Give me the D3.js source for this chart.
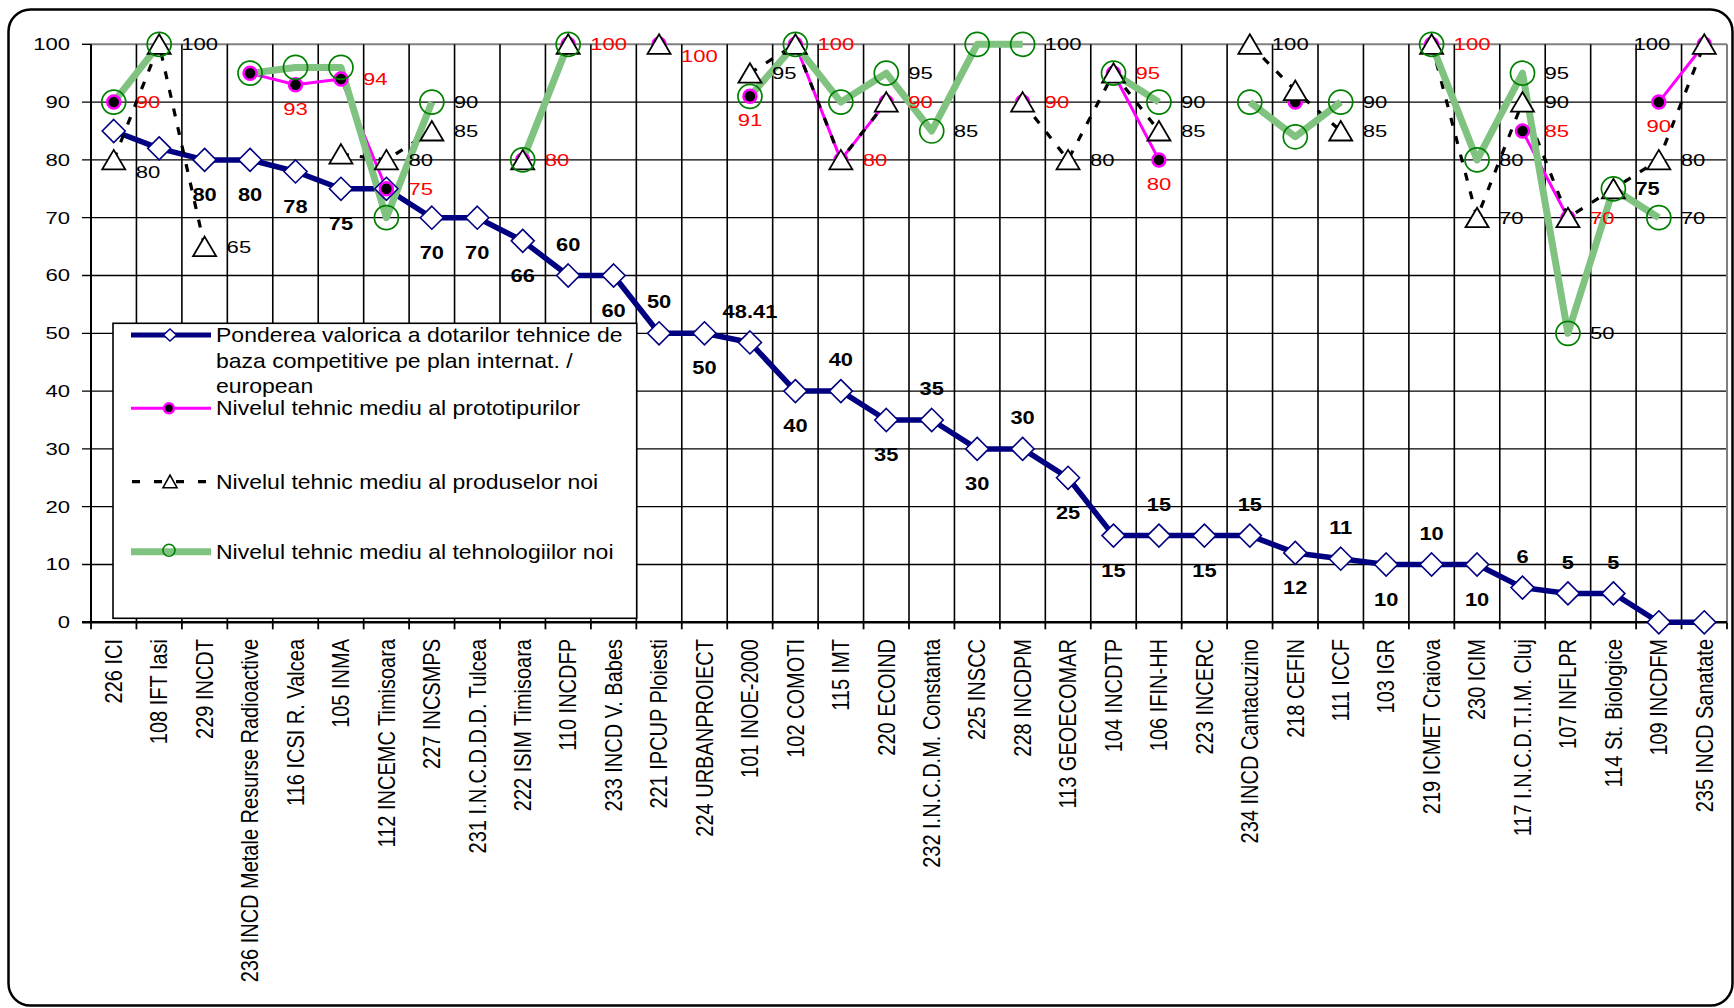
<!DOCTYPE html>
<html><head><meta charset="utf-8">
<script src="https://cdn.jsdelivr.net/npm/d3@7"></script>
<style>
html,body{margin:0;padding:0;background:#fff;}
svg{display:block;}
text{font-family:"Liberation Sans",Arial,Helvetica,sans-serif;}
</style>
</head><body>
<svg id="c" width="1734" height="1008"></svg>
<script>
// ---------------- DATA ----------------
const categories = [
  "226 ICI","108 IFT Iasi","229 INCDT","236 INCD Metale Resurse Radioactive","116 ICSI  R. Valcea",
  "105 INMA","112 INCEMC Timisoara","227 INCSMPS","231 I.N.C.D.D.D. Tulcea","222 ISIM Timisoara",
  "110 INCDFP","233 INCD V. Babes","221 IPCUP Ploiesti","224 URBANPROIECT","101 INOE-2000",
  "102 COMOTI","115 IMT","220 ECOIND","232 I.N.C.D.M. Constanta","225 INSCC",
  "228 INCDPM","113 GEOECOMAR","104 INCDTP","106 IFIN-HH","223 INCERC",
  "234 INCD Cantacuzino","218 CEFIN","111 ICCF","103 IGR","219  ICMET Craiova",
  "230 ICIM","117 I.N.C.D.T.I.M. Cluj","107 INFLPR","114 St.  Biologice","109 INCDFM",
  "235 INCD Sanatate"
];
// Ponderea valorica a dotarilor tehnice de baza competitive ...
const ponderea = [85,82,80,80,78,75,75,70,70,66,60,60,50,50,48.41,40,40,35,35,30,30,25,15,15,15,15,12,11,10,10,10,6,5,5,0,0];
// Nivelul tehnic mediu al prototipurilor
const prototipuri = [90,null,null,95,93,94,75,null,null,80,100,null,100,null,91,100,80,90,null,null,90,null,95,80,null,null,90,null,null,100,null,85,70,null,90,100];
// Nivelul tehnic mediu al produselor noi
const produse = [80,100,65,null,null,81,80,85,null,80,100,null,100,null,95,100,80,90,null,null,90,80,95,85,null,100,92,85,null,100,70,90,70,75,80,100];
// Nivelul tehnic mediu al tehnologiilor noi
const tehnologii = [90,100,null,95,96,96,70,90,null,80,100,null,null,null,91,100,90,95,85,100,100,null,95,90,null,90,84,90,null,100,80,95,50,75,70,null];

const yTicks = [0,10,20,30,40,50,60,70,80,90,100];
const legendLabels = [
  ["Ponderea valorica a dotarilor tehnice de","baza competitive pe plan internat. /","european"],
  ["Nivelul tehnic mediu al prototipurilor"],
  ["Nivelul tehnic mediu al produselor noi"],
  ["Nivelul tehnic mediu al tehnologiilor noi"]
];
// which points carry a data label, and on which side
const pondereaLabelSide = [null,null,"b","b","b","b",null,"b","b","b","a","b","a","b","a","b","a","b","a","b","a","b","b","a","b","a","b","a","b","a","b","a","a","a",null,null];
const prototipuriLabelSide = {0:"r",4:"b",5:"r",6:"r",9:"r",10:"r",12:"rb",14:"b",15:"r",16:"r",17:"r",20:"r",22:"r",23:"b",29:"r",31:"r",32:"r",34:"b"};
const produseLabelSide = {0:"rb",1:"r",2:"r",6:"r",7:"r",14:"r",21:"r",23:"r",25:"r",27:"r",30:"r",31:"r",33:"r",34:"r",35:"l"};
const tehnologiiLabelSide = {7:"r",17:"r",18:"r",20:"r",23:"r",27:"r",30:"r",31:"r",32:"r",34:"r"};
const produseBoldLabels = new Set([33]);

// ---------------- LAYOUT ----------------
const svg = d3.select("#c");
const L = 91, R = 1727, T = 44.3, B = 622.3;
const x = d3.scaleBand().domain(categories).range([L, R]).padding(0);
const cx = c => x(c) + x.bandwidth() / 2;
const y = d3.scaleLinear().domain([0, 100]).range([B, T]);

const NAVY = "#000080", MAG = "#ff00ff", GREEN_L = "#80c280", GREEN_M = "#008000", RED = "#ff0000";

// outer frame
svg.append("rect").attr("x", 8.5).attr("y", 9.5).attr("width", 1724).attr("height", 996)
  .attr("rx", 22).attr("ry", 22).attr("fill", "#fff").attr("stroke", "#000").attr("stroke-width", 2.5);

// text helper (horizontal stretch to mimic the reference rendering)
function txt(g, px, py, str, o) {
  const t = g.append("text")
    .attr("transform", `translate(${px},${py}) scale(${o.sx || 1},1)` + (o.rot ? ` rotate(${o.rot})` : ""))
    .attr("dy", "0.35em")
    .attr("text-anchor", o.anchor || "start")
    .attr("font-size", o.size)
    .attr("font-weight", o.bold ? "bold" : "normal")
    .attr("fill", o.fill || "#000")
    .text(str);
  return t;
}

// grid
const grid = svg.append("g");
yTicks.forEach(v => {
  if (v === 100) {
    grid.append("line").attr("x1", L - 9).attr("x2", L).attr("y1", y(v)).attr("y2", y(v)).attr("stroke", "#000").attr("stroke-width", 1.4);
    grid.append("line").attr("x1", L).attr("x2", R).attr("y1", y(v)).attr("y2", y(v)).attr("stroke", "#808080").attr("stroke-width", 2);
  } else if (v !== 0) {
    grid.append("line").attr("x1", L - 9).attr("x2", R).attr("y1", y(v)).attr("y2", y(v)).attr("stroke", "#000").attr("stroke-width", 1.3);
  }
});
const bounds = categories.map(c => x(c)).concat([x.range()[1]]);
bounds.forEach((bx, k) => {
  if (k > 0 && k < bounds.length - 1)
    grid.append("line").attr("x1", bx).attr("x2", bx).attr("y1", T).attr("y2", B).attr("stroke", "#000").attr("stroke-width", 1.6);
  grid.append("line").attr("x1", bx).attr("x2", bx).attr("y1", B).attr("y2", B + 7).attr("stroke", "#000").attr("stroke-width", 1.8);
});
// right gray border
grid.append("line").attr("x1", R).attr("x2", R).attr("y1", T).attr("y2", B).attr("stroke", "#808080").attr("stroke-width", 2);
// axes lines
grid.append("line").attr("x1", L).attr("x2", L).attr("y1", T).attr("y2", B).attr("stroke", "#000").attr("stroke-width", 2);
grid.append("line").attr("x1", L - 9).attr("x2", R).attr("y1", B).attr("y2", B).attr("stroke", "#000").attr("stroke-width", 2.5);

// y tick labels
const yl = svg.append("g");
yTicks.forEach(v => txt(yl, 70, y(v), String(v), {size: 17, sx: 1.3, anchor: "end"}));

// x labels
const xl = svg.append("g");
categories.forEach(c => txt(xl, cx(c), 639, c, {size: 20, sx: 1.18, anchor: "end", rot: -90}));

// ---------------- SERIES ----------------
const pts = arr => arr.map((v, i) => ({c: categories[i], v, i}));
const lineGen = d3.line().defined(d => d.v != null).x(d => cx(d.c)).y(d => y(d.v));
const lines = svg.append("g").attr("fill", "none").attr("stroke-linejoin", "round");
lines.append("path").attr("d", lineGen(pts(ponderea))).attr("stroke", NAVY).attr("stroke-width", 5.5);
lines.append("path").attr("d", lineGen(pts(prototipuri))).attr("stroke", MAG).attr("stroke-width", 3);
lines.append("path").attr("d", lineGen(pts(produse))).attr("stroke", "#000").attr("stroke-width", 3.2).attr("stroke-dasharray", "8,11");
lines.append("path").attr("d", lineGen(pts(tehnologii))).attr("stroke", GREEN_L).attr("stroke-width", 7);

const mk = svg.append("g");
const diamond = "M0,-11.5L11.5,0L0,11.5L-11.5,0Z";
const tri = "M0,-10L11.5,9.5L-11.5,9.5Z";
mk.selectAll(".d").data(pts(ponderea).filter(d => d.v != null)).join("path")
  .attr("d", diamond).attr("transform", d => `translate(${cx(d.c)},${y(d.v)})`)
  .attr("fill", "#fff").attr("stroke", NAVY).attr("stroke-width", 1.6);
mk.selectAll(".p").data(pts(prototipuri).filter(d => d.v != null)).join("circle")
  .attr("cx", d => cx(d.c)).attr("cy", d => y(d.v)).attr("r", 6.5)
  .attr("fill", "#000").attr("stroke", MAG).attr("stroke-width", 2.5);
mk.selectAll(".t").data(pts(produse).filter(d => d.v != null)).join("path")
  .attr("d", tri).attr("transform", d => `translate(${cx(d.c)},${y(d.v)})`)
  .attr("fill", "#fff").attr("stroke", "#000").attr("stroke-width", 1.8);
mk.selectAll(".g").data(pts(tehnologii).filter(d => d.v != null)).join("circle")
  .attr("cx", d => cx(d.c)).attr("cy", d => y(d.v)).attr("r", 12)
  .attr("fill", "none").attr("stroke", GREEN_M).attr("stroke-width", 1.7);

// ---------------- LABELS ----------------
const lb = svg.append("g");
function normalLabel(i, v, side, fill, bold) {
  const px = cx(categories[i]), py = y(v);
  const o = {size: 17, sx: 1.3, fill, bold};
  if (bold) { o.size = 17.5; o.sx = 1.25; }
  if (side === "r") txt(lb, px + 22, py, String(v), Object.assign(o, {anchor: "start"}));
  else if (side === "rb") txt(lb, px + 22, py + 12, String(v), Object.assign(o, {anchor: "start"}));
  else if (side === "b") txt(lb, px, py + 24, String(v), Object.assign(o, {anchor: "middle"}));
  else if (side === "l") txt(lb, px - 34, py, String(v), Object.assign(o, {anchor: "end"}));
}
ponderea.forEach((v, i) => {
  const s = pondereaLabelSide[i];
  if (!s || v == null) return;
  const px = cx(categories[i]), py = y(v);
  txt(lb, px, s === "b" ? py + 35 : py - 31, String(v), {size: 17.5, sx: 1.25, bold: true, anchor: "middle"});
});
Object.entries(prototipuriLabelSide).forEach(([i, s]) => normalLabel(+i, prototipuri[+i], s, RED, false));
Object.entries(produseLabelSide).forEach(([i, s]) => normalLabel(+i, produse[+i], s, "#000", produseBoldLabels.has(+i)));
Object.entries(tehnologiiLabelSide).forEach(([i, s]) => normalLabel(+i, tehnologii[+i], s, "#000", false));

// ---------------- LEGEND ----------------
const lg = svg.append("g");
lg.append("rect").attr("x", 113).attr("y", 323.3).attr("width", 523.7).attr("height", 295)
  .attr("fill", "#fff").attr("stroke", "#000").attr("stroke-width", 1.6);
const rowsY = [335, 408.3, 481.7, 551.7];
const sx0 = 131, sx1 = 211, mx = 170, tx = 216;
// series 1
lg.append("line").attr("x1", sx0).attr("x2", sx1).attr("y1", rowsY[0]).attr("y2", rowsY[0]).attr("stroke", NAVY).attr("stroke-width", 5);
lg.append("path").attr("d", "M0,-6L6.5,0L0,6L-6.5,0Z").attr("transform", `translate(${mx},${rowsY[0]})`).attr("fill", "#fff").attr("stroke", NAVY).attr("stroke-width", 1.5);
// series 2
lg.append("line").attr("x1", sx0).attr("x2", sx1).attr("y1", rowsY[1]).attr("y2", rowsY[1]).attr("stroke", MAG).attr("stroke-width", 3);
lg.append("circle").attr("cx", mx - 1).attr("cy", rowsY[1]).attr("r", 5).attr("fill", "#000").attr("stroke", MAG).attr("stroke-width", 2.5);
// series 3
lg.append("line").attr("x1", sx0 + 1).attr("x2", sx1).attr("y1", rowsY[2]).attr("y2", rowsY[2]).attr("stroke", "#000").attr("stroke-width", 3.2).attr("stroke-dasharray", "8,14");
lg.append("path").attr("d", "M0,-6.5L7,6L-7,6Z").attr("transform", `translate(${mx},${rowsY[2]})`).attr("fill", "#fff").attr("stroke", "#000").attr("stroke-width", 1.6);
// series 4
lg.append("line").attr("x1", sx0).attr("x2", sx1).attr("y1", rowsY[3]).attr("y2", rowsY[3]).attr("stroke", GREEN_L).attr("stroke-width", 7);
lg.append("circle").attr("cx", mx - 1).attr("cy", rowsY[3] - 1.5).attr("r", 6).attr("fill", "none").attr("stroke", GREEN_M).attr("stroke-width", 1.6);

const lineStep = 25.7;
legendLabels.forEach((lines, k) => {
  lines.forEach((s, j) => txt(lg, tx, rowsY[k] + j * lineStep, s, {size: 20, sx: 1.15, anchor: "start"}));
});
</script>
</body></html>
